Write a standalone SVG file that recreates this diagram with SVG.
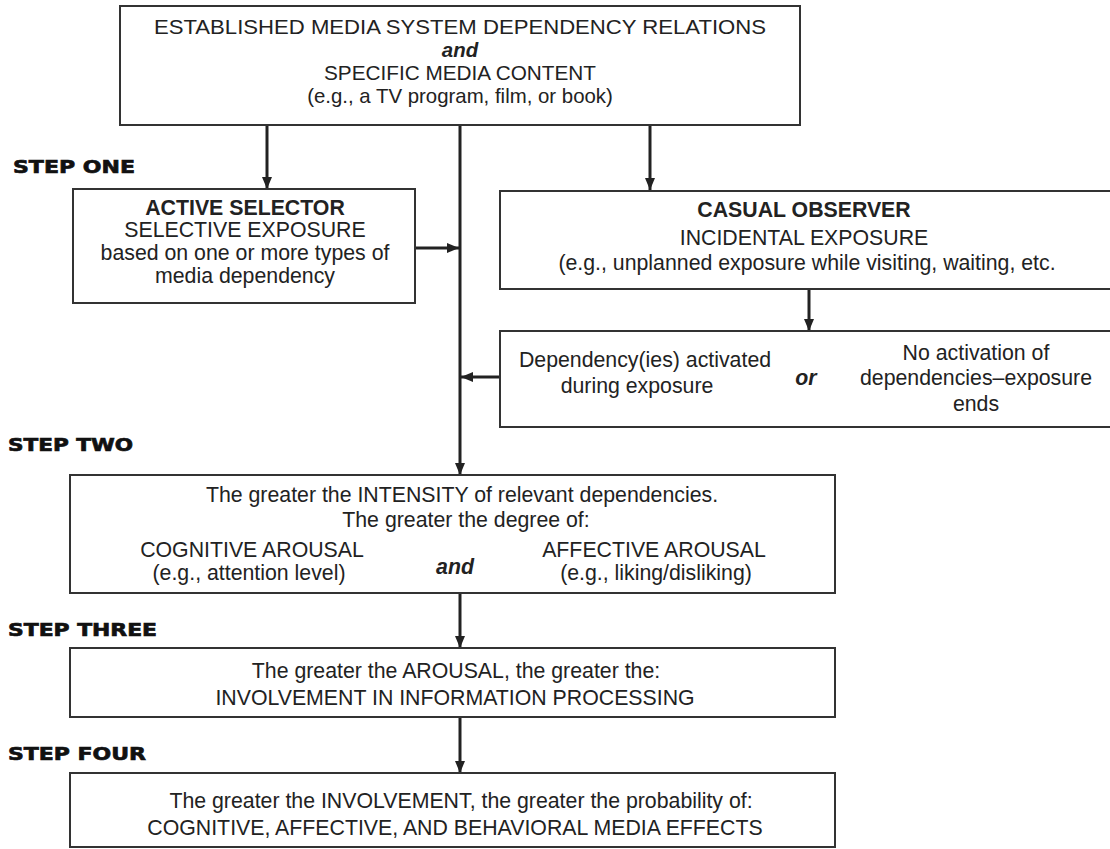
<svg xmlns="http://www.w3.org/2000/svg" width="1110" height="849" viewBox="0 0 1110 849">
<style>
.box{fill:#fff;stroke:#333;stroke-width:2}
.t{font-family:"Liberation Sans",Arial,sans-serif;font-size:21.3px;fill:#222;text-anchor:middle}
.tt{font-size:20.4px}
.b{font-weight:bold}
.bi{font-weight:bold;font-style:italic}
.step{font-family:"DejaVu Sans","Liberation Sans",sans-serif;font-weight:bold;font-size:18px;fill:#111;stroke:#111;stroke-width:0.7}
.c{stroke:#222;stroke-width:3;fill:none}
</style>
<defs>
<marker id="ah" markerUnits="userSpaceOnUse" markerWidth="12" markerHeight="10" refX="12" refY="5" orient="auto">
<path d="M0,0 L12,5 L0,10 z" fill="#222"/>
</marker>
</defs>
<rect width="1110" height="849" fill="#fff"/>
<g id="labels">
<text class="step" x="13" y="173" textLength="122" lengthAdjust="spacingAndGlyphs">STEP ONE</text>
<text class="step" x="8" y="451" textLength="125" lengthAdjust="spacingAndGlyphs">STEP TWO</text>
<text class="step" x="8" y="636" textLength="149" lengthAdjust="spacingAndGlyphs">STEP THREE</text>
<text class="step" x="8" y="760" textLength="138" lengthAdjust="spacingAndGlyphs">STEP FOUR</text>
</g>
<g id="connectors">
<line class="c" x1="267" y1="125" x2="267" y2="189" marker-end="url(#ah)"/>
<line class="c" x1="650" y1="125" x2="650" y2="190" marker-end="url(#ah)"/>
<line class="c" x1="460" y1="125" x2="460" y2="475" marker-end="url(#ah)"/>
<line class="c" x1="415" y1="248" x2="459" y2="248" marker-end="url(#ah)"/>
<line class="c" x1="809" y1="289" x2="809" y2="331" marker-end="url(#ah)"/>
<line class="c" x1="500" y1="377" x2="461" y2="377" marker-end="url(#ah)"/>
<line class="c" x1="460" y1="593" x2="460" y2="648" marker-end="url(#ah)"/>
<line class="c" x1="460" y1="717" x2="460" y2="773" marker-end="url(#ah)"/>
</g>
<g id="top">
<rect class="box" x="120" y="6" width="680" height="119"/>
<text class="t tt" x="460" y="34" textLength="612" lengthAdjust="spacingAndGlyphs">ESTABLISHED MEDIA SYSTEM DEPENDENCY RELATIONS</text>
<text class="t tt bi" x="460" y="57">and</text>
<text class="t tt" x="460" y="80" textLength="272" lengthAdjust="spacingAndGlyphs">SPECIFIC MEDIA CONTENT</text>
<text class="t tt" x="460" y="103">(e.g., a TV program, film, or book)</text>
</g>
<g id="active">
<rect class="box" x="73" y="189" width="342" height="114"/>
<text class="t b" x="245" y="215">ACTIVE SELECTOR</text>
<text class="t" x="245" y="237">SELECTIVE EXPOSURE</text>
<text class="t" x="245" y="260">based on one or more types of</text>
<text class="t" x="245" y="283">media dependency</text>
</g>
<g id="casual">
<rect class="box" x="500" y="191" width="614" height="98"/>
<text class="t b" x="804" y="217">CASUAL OBSERVER</text>
<text class="t" x="804" y="245">INCIDENTAL EXPOSURE</text>
<text class="t" x="807" y="270">(e.g., unplanned exposure while visiting, waiting, etc.</text>
</g>
<g id="dependency">
<rect class="box" x="500" y="331" width="614" height="96"/>
<text class="t" x="645" y="367">Dependency(ies) activated</text>
<text class="t" x="637" y="393">during exposure</text>
<text class="t bi" x="806" y="385">or</text>
<text class="t" x="976" y="360">No activation of</text>
<text class="t" x="976" y="385">dependencies–exposure</text>
<text class="t" x="976" y="411">ends</text>
</g>
<g id="step2">
<rect class="box" x="70" y="475" width="765" height="118"/>
<text class="t" x="462" y="502">The greater the INTENSITY of relevant dependencies.</text>
<text class="t" x="466" y="527">The greater the degree of:</text>
<text class="t" x="252" y="557">COGNITIVE AROUSAL</text>
<text class="t" x="249" y="580">(e.g., attention level)</text>
<text class="t bi" x="455" y="574">and</text>
<text class="t" x="654" y="557">AFFECTIVE AROUSAL</text>
<text class="t" x="656" y="580">(e.g., liking/disliking)</text>
</g>
<g id="step3">
<rect class="box" x="70" y="648" width="765" height="69"/>
<text class="t" x="456" y="678">The greater the AROUSAL, the greater the:</text>
<text class="t" x="455" y="705">INVOLVEMENT IN INFORMATION PROCESSING</text>
</g>
<g id="step4">
<rect class="box" x="70" y="773" width="765" height="74"/>
<text class="t" x="461" y="808">The greater the INVOLVEMENT, the greater the probability of:</text>
<text class="t" x="455" y="835">COGNITIVE, AFFECTIVE, AND BEHAVIORAL MEDIA EFFECTS</text>
</g>
</svg>
